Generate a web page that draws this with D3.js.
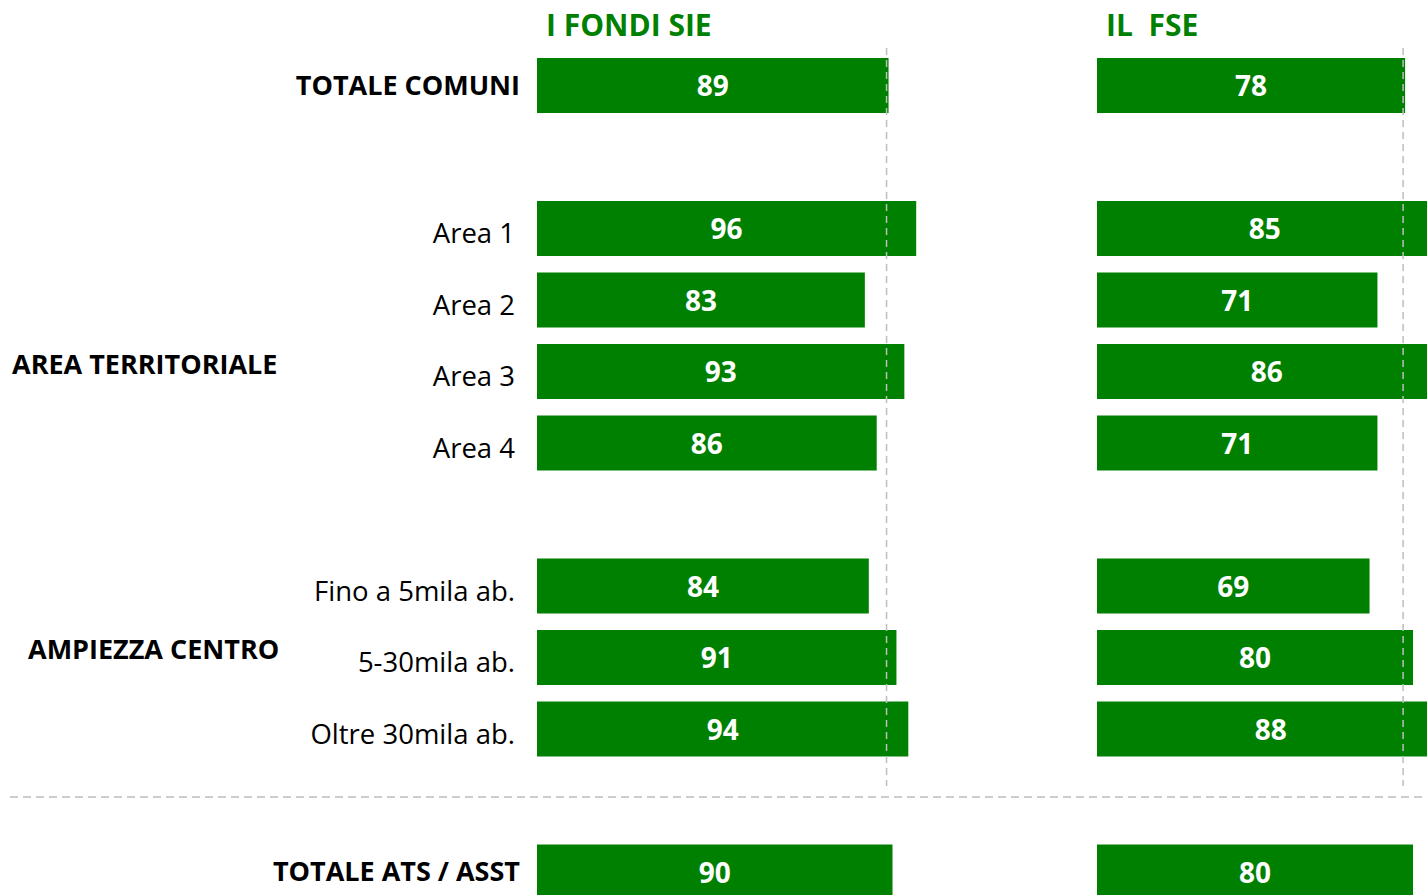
<!DOCTYPE html>
<html>
<head>
<meta charset="utf-8">
<script src="https://cdn.jsdelivr.net/npm/d3@7"></script>
<style>
  html, body { margin: 0; padding: 0; background: #fff; overflow: hidden; }
  svg { display: block; font-family: 'Open Sans', sans-serif; }
</style>
</head>
<body>
<svg id="chart" width="1427" height="895"></svg>
<script>
const categories = ['TOTALE COMUNI', 'Area 1', 'Area 2', 'Area 3', 'Area 4',
  'Fino a 5mila ab.', '5-30mila ab.', 'Oltre 30mila ab.', 'TOTALE ATS / ASST']
const groupOf = ['TOTALE', 'AREA TERRITORIALE', 'AREA TERRITORIALE', 'AREA TERRITORIALE', 'AREA TERRITORIALE',
  'AMPIEZZA CENTRO', 'AMPIEZZA CENTRO', 'AMPIEZZA CENTRO', 'TOTALE ATS']
const fondiSie = [89, 96, 83, 93, 86, 84, 91, 94, 90]
const fse = [78, 85, 71, 86, 71, 69, 80, 88, 80]
const panels = ['I FONDI SIE', 'IL\u00a0 FSE']

const green = '#008000'
const svg = d3.select('#chart')

// one empty slot between groups
let slot = -1
const rows = categories.map((c, i) => {
  slot += (i > 0 && groupOf[i] !== groupOf[i - 1]) ? 2 : 1
  return { name: c, group: groupOf[i], slot, sie: fondiSie[i], fse: fse[i], bold: c.startsWith('TOTALE') }
})

const yScale = d3.scaleLinear().domain([0, 1]).range([58, 129.5])
const barH = 55
const xScale = d3.scaleLinear().domain([0, 100]).range([0, 395])
const panelX = [537, 1097]
const series = [fondiSie, fse]

// separator
svg.append('line')
  .attr('x1', 10).attr('x2', 1427).attr('y1', 797).attr('y2', 797)
  .style('stroke', '#bdbdbd').style('stroke-width', 1.5).style('stroke-dasharray', '8 5')

panels.forEach((title, p) => {
  const g = svg.append('g').attr('transform', `translate(${panelX[p]},0)`)
  g.append('text')
    .attr('x', 9).attr('y', 25).attr('dy', '0.35em')
    .style('font-weight', 700).style('font-size', '30px').style('fill', green)
    .text(title)

  g.selectAll('rect').data(rows).join('rect')
    .attr('x', 0)
    .attr('y', d => yScale(d.slot))
    .attr('width', (d, i) => xScale(series[p][i]))
    .attr('height', barH)
    .style('fill', green)

  g.selectAll('text.val').data(rows).join('text')
    .attr('class', 'val')
    .attr('x', (d, i) => xScale(series[p][i]) / 2)
    .attr('y', d => yScale(d.slot) + barH / 2 + 1)
    .attr('dy', '0.35em')
    .attr('text-anchor', 'middle')
    .style('fill', '#fff').style('font-weight', 700).style('font-size', '28px')
    .text((d, i) => series[p][i])

  // reference line at the total
  const refX = xScale(series[p][0]) - 2
  g.append('line')
    .attr('x1', refX).attr('x2', refX).attr('y1', 48).attr('y2', 786)
    .style('stroke', '#bdbdbd').style('stroke-width', 1.5).style('stroke-dasharray', '7 5')
})

// category labels
svg.selectAll('text.cat').data(rows).join('text')
  .attr('class', 'cat')
  .attr('x', d => d.bold ? 520 : 515)
  .attr('y', d => yScale(d.slot) + barH / 2 + (d.bold ? 0 : 5))
  .attr('dy', '0.35em')
  .attr('text-anchor', 'end')
  .style('font-weight', d => d.bold ? 700 : 400)
  .style('font-size', d => d.bold ? '27px' : '27.5px')
  .style('fill', '#000')
  .text(d => d.name)

// group labels
const groupLabels = ['AREA TERRITORIALE', 'AMPIEZZA CENTRO']
const groupX = [12, 28]
groupLabels.forEach((gl, k) => {
  const slots = rows.filter(r => r.group === gl).map(r => r.slot)
  const mid = (yScale(d3.min(slots)) + yScale(d3.max(slots)) + barH) / 2
  svg.append('text')
    .attr('x', groupX[k]).attr('y', mid + 29 - k * 37)
    .attr('dy', '0.35em')
    .style('font-weight', 700).style('font-size', '27px').style('fill', '#000')
    .text(gl)
})
</script>
</body>
</html>
